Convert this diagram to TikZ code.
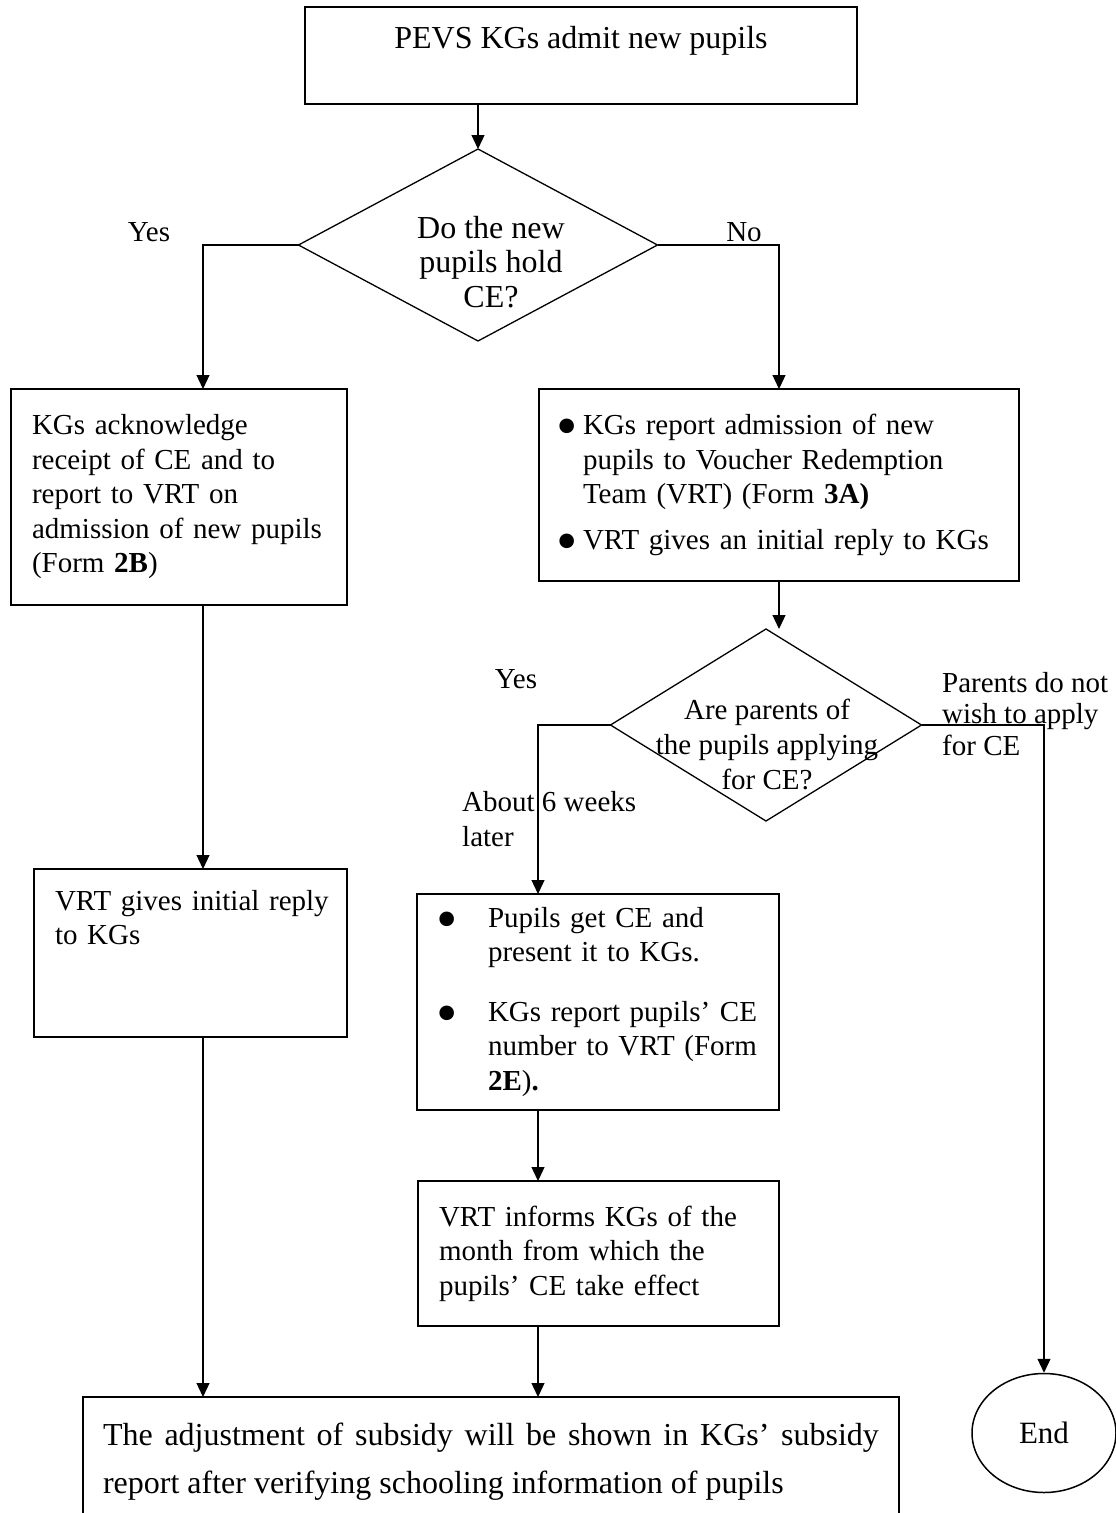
\documentclass[tikz,border=0pt]{standalone}
\usepackage{fontspec}
\setmainfont{Liberation Serif}
\usetikzlibrary{positioning, arrows.meta, shapes.geometric}
\newcommand{\flowbullet}{\makebox[13pt]{\raisebox{-12pt}[0pt][0pt]{\scalebox{2.1}{\textbullet}}}}

\begin{document}
\begin{tikzpicture}[
    x=1pt, y=-1pt,
    box/.style={rectangle, draw=black, line width=1.6pt, inner sep=0pt, outer sep=0pt,
                font=\fontsize{29}{34.5}\selectfont, align=left},
    decision/.style={diamond, draw=black, line width=1.3pt, inner sep=0pt, outer sep=0pt},
    txt/.style={font=\fontsize{29}{34.5}\selectfont, inner sep=0pt},
    bigtxt/.style={font=\fontsize{32}{34.5}\selectfont, inner sep=0pt},
    arrow/.style={-{Triangle[length=14pt, width=13pt]}, line width=1.2pt}
]
    \useasboundingbox (0,0) rectangle (1116,1513);

    % === Start ===
    \node[box, anchor=north, minimum width=552pt, inner ysep=19pt, text depth=37pt,
          font=\fontsize{32}{34.5}\selectfont] (admit) at (581,7) {PEVS KGs admit new pupils};

    % === Do they hold CE? ===
    \node[decision, minimum width=359pt, minimum height=192pt] (hold) at (478,245) {};
    \node[bigtxt, align=center] (holdtext) at (491,262) {Do the new\\pupils hold\\CE?};
    \node[txt] (yes1) at (149,232) {Yes};
    \node[txt] (no1) at (744,232) {No};
    \coordinate (yescol) at (203,245);

    \draw[arrow] (admit.south -| hold.north) -- (hold.north);

    % === Yes branch ===
    \node[box, minimum height=216pt, inner xsep=21pt, text width=294pt] (ack) at (179,497) {KGs acknowledge\\receipt of CE and to\\report to VRT on\\admission of new pupils\\(Form \textbf{2B})};
    \node[box, anchor=north, inner xsep=21pt, text width=271pt, inner ysep=21pt, text depth=106pt] (init) at (190.5,869) {\mbox{VRT gives initial reply}\\to KGs};

    \draw[arrow] (hold.west) -- (yescol) -- (yescol |- ack.north);
    \draw[arrow] (ack.south -| yescol) -- (init.north -| yescol);

    % === No branch ===
    \node[box, minimum height=192pt, inner xsep=22pt, text width=436pt] (report) at (779,485) {%
        \begin{tabular}{@{}l@{\hspace{9pt}}l@{}}
        \flowbullet & KGs report admission of new\\
                    & pupils to Voucher Redemption\\
                    & Team (VRT) (Form \textbf{3A)}\\[11pt]
        \flowbullet & VRT gives an initial reply to KGs
        \end{tabular}};

    \draw[arrow] (hold.east) -| (report.north);

    % === Applying for CE? ===
    \node[decision, minimum width=311pt, minimum height=192pt] (apply) at (766,725) {};
    \node[txt, align=center, font=\fontsize{29}{35}\selectfont] (applytext) at (767,744) {Are parents of\\the pupils applying\\for CE?};
    \node[txt] (yes2) at (516,679) {Yes};
    \node[txt, align=left, anchor=west] (later) at (462,819) {About 6 weeks\\later};
    \node[txt, align=left, anchor=west, font=\fontsize{29}{31.5}\selectfont] (nowish) at (942,714) {Parents do not\\wish to apply\\for CE};
    \coordinate (latercol) at (538,725);

    \draw[arrow] (report.south) -- (report.south |- apply.north);

    \node[box, minimum height=216pt, inner xsep=24pt, text width=314pt] (get) at (598,1002) {%
        \begin{tabular}{@{}l@{\hspace{34pt}}l@{}}
        \flowbullet & Pupils get CE and\\
                    & present it to KGs.\\[25pt]
        \flowbullet & KGs report pupils’ CE\\
                    & number to VRT (Form\\
                    & \textbf{2E})\textbf{.}
        \end{tabular}};
    \node[box, minimum height=145pt, inner xsep=21pt, text width=319pt] (inform) at (598.5,1253.5) {VRT informs KGs of the\\month from which the\\pupils’ CE take effect};

    \draw[arrow] (apply.west) -- (latercol) -- (latercol |- get.north);
    \draw[arrow] (get.south -| latercol) -- (inform.north -| latercol);

    % === Outcome ===
    \node[box, anchor=north, inner xsep=20pt, inner ysep=26pt, text width=776pt, align=justify,
          font=\fontsize{32}{48}\selectfont] (final) at (491,1397) {The adjustment of subsidy will be shown in KGs’ subsidy\linebreak report after verifying schooling information of pupils};
    \node[ellipse, draw=black, line width=1.5pt, minimum width=144pt, minimum height=119pt,
          inner sep=0pt, font=\fontsize{31}{34}\selectfont] (endnode) at (1044,1433) {End};

    \draw[arrow] (init.south -| yescol) -- (final.north -| yescol);
    \draw[arrow] (inform.south -| latercol) -- (final.north -| latercol);
    \draw[arrow] (apply.east) -| (endnode.north);

\end{tikzpicture}
\end{document}
